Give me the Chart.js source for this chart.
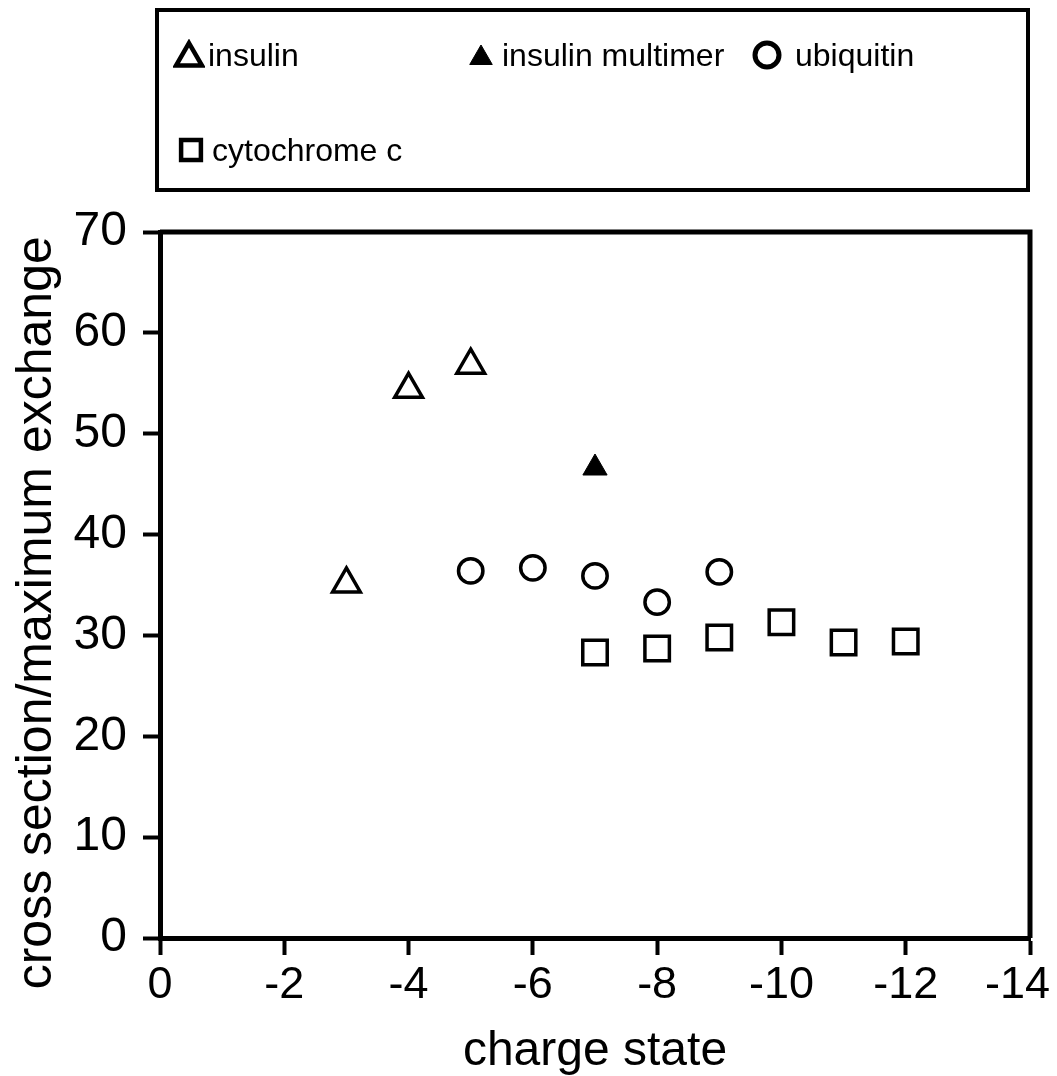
<!DOCTYPE html>
<html>
<head>
<meta charset="utf-8">
<script src="https://cdn.jsdelivr.net/npm/chart.js@4.4.1/dist/chart.umd.min.js"></script>
<style>
  html, body { margin: 0; padding: 0; background: #fff; }
  #wrap { position: relative; width: 1057px; height: 1076px; }
  #legend {
    position: absolute; left: 155px; top: 8px;
    width: 867px; height: 176px;
    border: 4px solid #000;
    font-family: "Liberation Sans", Arial, sans-serif;
    font-size: 32px; color: #000;
  }
  .item { position: absolute; display: flex; align-items: center; height: 40px; white-space: nowrap; }
</style>
</head>
<body>
<div id="wrap">
  <canvas id="chart" width="1057" height="1076"></canvas>
  <div id="legend"></div>
</div>
<script>
// charge states (x) and cross section / maximum exchange (y) per protein
const insulinX = [-3, -4, -5];
const insulinY = [35.1, 54.4, 56.8];
const multimerX = [-7];
const multimerY = [46.6];
const ubiquitinX = [-5, -6, -7, -8, -9];
const ubiquitinY = [36.4, 36.7, 35.9, 33.3, 36.3];
const cytochromeX = [-7, -8, -9, -10, -11, -12];
const cytochromeY = [28.3, 28.7, 29.8, 31.3, 29.3, 29.4];

const seriesNames = ['insulin', 'insulin multimer', 'ubiquitin', 'cytochrome c'];
const xTicks = [0, -2, -4, -6, -8, -10, -12, -14];
const yTicks = [0, 10, 20, 30, 40, 50, 60, 70];

const toPoints = (xs, ys) => xs.map((x, i) => ({ x: x, y: ys[i] }));
const NBSP = '\u00a0';

Chart.defaults.font.family = '"Liberation Sans", Arial, sans-serif';
Chart.defaults.color = '#000';

// closes the plot frame on the top and right sides
const frame = {
  id: 'frame',
  afterDraw(chart) {
    const { ctx, chartArea: a } = chart;
    ctx.save();
    ctx.strokeStyle = '#000';
    ctx.lineWidth = 5;
    ctx.beginPath();
    ctx.moveTo(a.left, a.top);
    ctx.lineTo(a.right, a.top);
    ctx.lineTo(a.right, a.bottom);
    ctx.stroke();
    ctx.restore();
  }
};

const datasets = [
  { label: seriesNames[0], data: toPoints(insulinX, insulinY),
    pointStyle: 'triangle', pointRadius: 16, pointBackgroundColor: '#fff',
    pointBorderColor: '#000', pointBorderWidth: 3.5 },
  { label: seriesNames[1], data: toPoints(multimerX, multimerY),
    pointStyle: 'triangle', pointRadius: 14, pointBackgroundColor: '#000',
    pointBorderColor: '#000', pointBorderWidth: 1 },
  { label: seriesNames[2], data: toPoints(ubiquitinX, ubiquitinY),
    pointStyle: 'circle', pointRadius: 12.2, pointBackgroundColor: '#fff',
    pointBorderColor: '#000', pointBorderWidth: 3.5 },
  { label: seriesNames[3], data: toPoints(cytochromeX, cytochromeY),
    pointStyle: 'rect', pointRadius: 17.3, pointBackgroundColor: '#fff',
    pointBorderColor: '#000', pointBorderWidth: 3.5 }
];

const chart = new Chart(document.getElementById('chart'), {
  type: 'scatter',
  data: { datasets: datasets },
  options: {
    responsive: false,
    animation: false,
    layout: { padding: { top: 232, right: 27, left: 0, bottom: 0 } },
    plugins: { legend: { display: false }, tooltip: { enabled: false } },
    scales: {
      x: {
        type: 'linear', min: -14, max: 0, reverse: true,
        afterBuildTicks(scale) { scale.ticks = xTicks.map(v => ({ value: v })); },
        ticks: {
          font: { size: 45 }, padding: 4, maxRotation: 0, autoSkip: false,
          // keep the last label inside the canvas
          callback: v => v === -14 ? v + NBSP + NBSP : String(v)
        },
        grid: { drawOnChartArea: false, tickLength: 17, tickWidth: 4, tickColor: '#000' },
        border: { color: '#000', width: 5 },
        title: { display: true, text: 'charge state', font: { size: 48, lineHeight: 1 }, padding: 0 },
        afterFit(scale) { scale.height = 138; scale.paddingLeft = 0; scale.paddingRight = 0; }
      },
      y: {
        type: 'linear', min: 0, max: 70,
        afterBuildTicks(scale) { scale.ticks = yTicks.map(v => ({ value: v })); },
        ticks: { font: { size: 48 }, padding: 16, autoSkip: false },
        grid: { drawOnChartArea: false, tickLength: 17, tickWidth: 4, tickColor: '#000' },
        border: { color: '#000', width: 5 },
        title: {
          display: true,
          text: 'cross section/maximum exchange' + NBSP.repeat(4),
          font: { size: 50, lineHeight: 1 }, padding: { top: 12 }
        },
        afterFit(scale) { scale.width = 160; }
      }
    }
  },
  plugins: [frame]
});

// legend box, markers drawn with the same point styles as the chart
const legendSlots = [
  { left: 14, top: 23, gap: 3 },
  { left: 306, top: 23, gap: 5 },
  { left: 592, top: 23, gap: 12 },
  { left: 16, top: 118, gap: 5 }
];
const legendMarks = [
  { pointStyle: 'triangle', radius: 15, fill: '#fff', borderWidth: 4.5 },
  { pointStyle: 'triangle', radius: 13, fill: '#000', borderWidth: 1 },
  { pointStyle: 'circle', radius: 12, fill: '#fff', borderWidth: 5 },
  { pointStyle: 'rect', radius: 14, fill: '#fff', borderWidth: 4.5 }
];
const legend = document.getElementById('legend');
seriesNames.forEach((name, i) => {
  const slot = legendSlots[i];
  const mark = legendMarks[i];
  const item = document.createElement('div');
  item.className = 'item';
  item.style.left = slot.left + 'px';
  item.style.top = slot.top + 'px';
  const c = document.createElement('canvas');
  c.width = 32; c.height = 32;
  c.style.marginRight = slot.gap + 'px';
  const ctx = c.getContext('2d');
  ctx.fillStyle = mark.fill;
  ctx.strokeStyle = '#000';
  ctx.lineWidth = mark.borderWidth;
  Chart.helpers.drawPoint(ctx, { pointStyle: mark.pointStyle, radius: mark.radius, rotation: 0, borderWidth: mark.borderWidth }, 16, mark.pointStyle === 'triangle' ? 19 : 16);
  const span = document.createElement('span');
  span.textContent = name;
  item.appendChild(c);
  item.appendChild(span);
  legend.appendChild(item);
});
</script>
</body>
</html>
